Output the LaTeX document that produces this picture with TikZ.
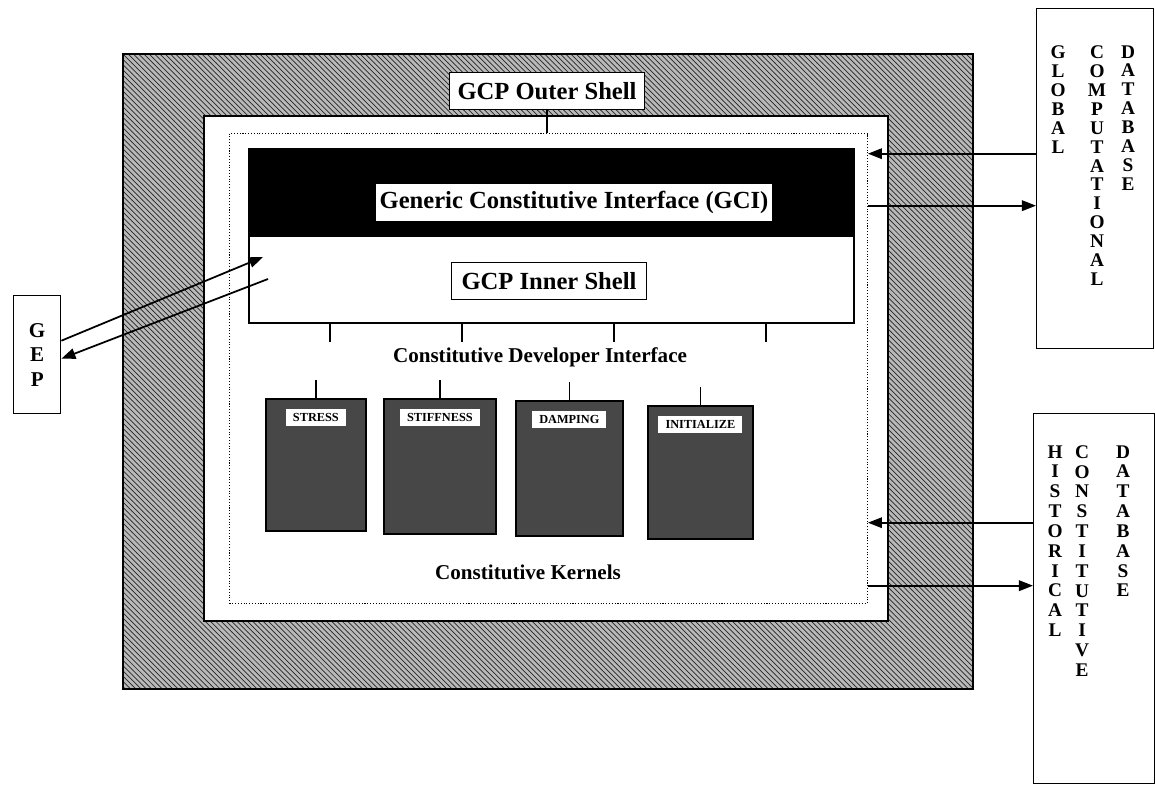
\documentclass[tikz,border=0pt]{standalone}
\usepackage{fontspec}
\setmainfont{Liberation Serif}
\usetikzlibrary{arrows.meta,patterns,positioning}

\begin{document}
\begin{tikzpicture}[x=0.02cm,y=-0.02cm,
      shell/.style={draw,line width=1.1pt,preaction={fill=gray!55},pattern=north west lines,
      pattern color=black!85,anchor=north west},
      plate/.style={draw,line width=1.1pt,fill=white,anchor=north west},
      tag/.style={draw,fill=white,line width=0.8pt,minimum height=0.74cm,inner sep=2pt,
      font=\fontsize{14}{16}\selectfont\bfseries},
      kernel/.style={draw,line width=1pt,fill=black!72,anchor=north west},
      ktag/.style={fill=white,minimum height=0.34cm,inner xsep=4pt,inner ysep=1pt,
      font=\fontsize{7}{8}\selectfont\bfseries},
      db/.style={draw,line width=0.8pt,anchor=north west},
      letters/.style={align=center,anchor=north,inner sep=0pt,font=\fontsize{11}{10.8}\selectfont\bfseries},
      caption/.style={font=\fontsize{12}{14}\selectfont\bfseries},
      flow/.style={line width=1pt,-{Triangle[length=8pt,width=6pt]}}]
      \useasboundingbox (0,0) rectangle (1155,785);
      \node[shell,minimum width=17cm,minimum height=12.7cm] (outer) at (122,53) {};
      \node[plate,minimum width=13.68cm,minimum height=10.1cm] (plate) at (203,115) {};
      \node[draw,densely dotted,line width=0.6pt,minimum width=12.76cm,minimum height=9.4cm,
      anchor=north west] (core) at (229,133) {};
      \node[plate,minimum width=12.1cm,minimum height=3.48cm] (gcp) at (248,148) {};
      \node[plate,fill=black,minimum width=12.1cm,minimum height=1.74cm] (band) at (248,148) {};
      \node[tag,draw=none,minimum width=7.94cm] (gci) at (574,202) {Generic Constitutive Interface (GCI)};
      \node[tag,minimum width=3.9cm] (innerlbl) at (549,281) {GCP Inner Shell};
      \node[tag,minimum width=3.9cm] (outerlbl) at (547,91) {GCP Outer Shell};
      \draw[line width=0.8pt] (outerlbl.south) -- (outerlbl.south |- core.north);
      \foreach \dx in {82,214,366,518}
        \draw[line width=0.8pt] ([xshift=\dx*0.02cm]gcp.south west) -- ++(0,18);
      \node[caption] (cdi) at (540,357) {Constitutive Developer Interface};
      \node[kernel,minimum width=2cm,minimum height=2.64cm] (stress) at (265,398) {};
      \node[kernel,minimum width=2.24cm,minimum height=2.7cm] (stiff) at (383,398) {};
      \node[kernel,minimum width=2.14cm,minimum height=2.7cm] (damp) at (515,400) {};
      \node[kernel,minimum width=2.1cm,minimum height=2.66cm] (init) at (647,405) {};
      \node[ktag,below=0.22cm of stress.north] {STRESS};
      \node[ktag,below=0.22cm of stiff.north] {STIFFNESS};
      \node[ktag,below=0.22cm of damp.north] {DAMPING};
      \node[ktag,below=0.22cm of init.north] {INITIALIZE};
      \foreach \k in {stress,stiff,damp,init}
        \draw[line width=0.8pt] (\k.north) -- ++(0,-18);
      \node[caption] (kern) at (528,572) {Constitutive Kernels};
      \node[db,minimum width=0.94cm,minimum height=2.36cm,align=center,
      font=\fontsize{12}{14}\selectfont\bfseries] (gep) at (13,295) {G\\E\\P};
      \coordinate (gepin) at (263,257);
      \coordinate (gepout) at (268,279);
      \draw[flow] ([yshift=0.28cm]gep.east) -- (gepin);
      \draw[flow] (gepout) -- ([yshift=-0.08cm]gep.east);
      \node[db,minimum width=2.34cm,minimum height=6.8cm] (gdb) at (1036,8) {};
      \node[letters] at (1058,45) {G\\L\\O\\B\\A\\L};
      \node[letters] at (1097,45) {C\\O\\M\\P\\U\\T\\A\\T\\I\\O\\N\\A\\L};
      \node[letters] at (1128,45) {D\\A\\T\\A\\B\\A\\S\\E};
      \node[db,minimum width=2.42cm,minimum height=7.4cm] (hdb) at (1033,413) {};
      \node[letters,font=\fontsize{11}{11.3}\selectfont\bfseries] at (1055,445) {H\\I\\S\\T\\O\\R\\I\\C\\A\\L};
      \node[letters,font=\fontsize{11}{11.3}\selectfont\bfseries] at (1082,445) {C\\O\\N\\S\\T\\I\\T\\U\\T\\I\\V\\E};
      \node[letters,font=\fontsize{11}{11.3}\selectfont\bfseries] at (1123,445) {D\\A\\T\\A\\B\\A\\S\\E};
      \coordinate (ga) at ([yshift=0.5cm]gdb.west);
      \coordinate (gb) at ([yshift=-0.54cm]gdb.west);
      \coordinate (ha) at ([yshift=1.52cm]hdb.west);
      \coordinate (hb) at ([yshift=0.26cm]hdb.west);
      \draw[flow] (ga) -- (ga -| core.east);
      \draw[flow] (gb -| core.east) -- (gb);
      \draw[flow] (ha) -- (ha -| core.east);
      \draw[flow] (hb -| core.east) -- (hb);
    \end{tikzpicture}
\end{document}
